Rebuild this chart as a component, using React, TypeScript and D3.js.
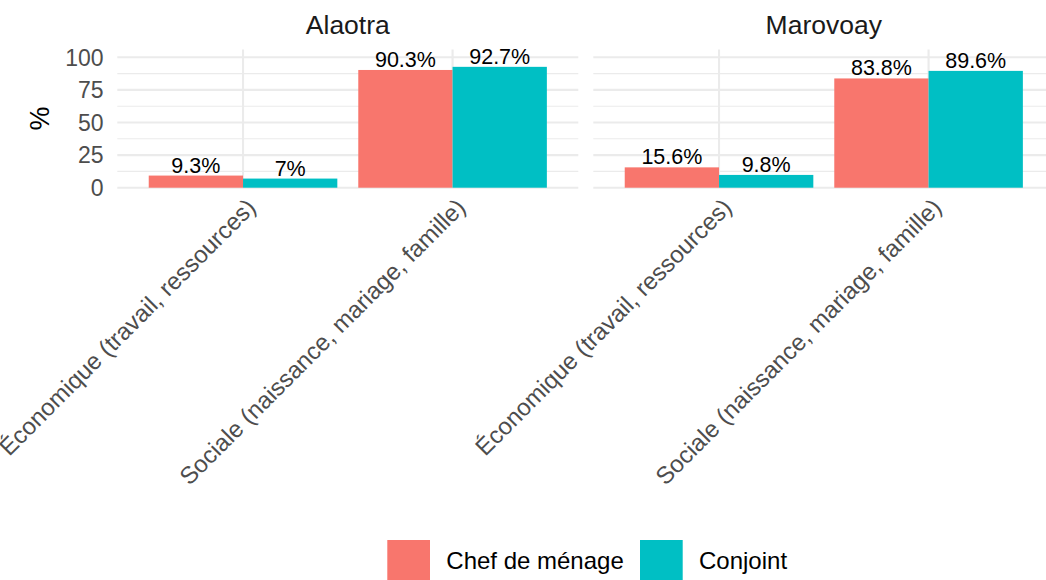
import React from "react";
import * as d3 from "d3";

const regions = ["Alaotra", "Marovoay"];
const categories = ["Économique (travail, ressources)", "Sociale (naissance, mariage, famille)"];
const series = ["Chef de ménage", "Conjoint"];
const colors = ["#F8766D", "#00BFC4"];
// values[category][series] per region
const alaotraValues = [[9.3, 7.0], [90.3, 92.7]];
const marovoayValues = [[15.6, 9.8], [83.8, 89.6]];
const yTicks = [0, 25, 50, 75, 100];
const yMinor = [12.5, 37.5, 62.5, 87.5];

const W = 1046;
const H = 580;
const FONT = "'Liberation Sans', Arial, Helvetica, sans-serif";

const panelTop = 49.5;
const panelBottom = 187.7;
const panels = [
  { left: 117.3, right: 578.3 },
  { left: 593.3, right: 1054.3 },
];

function fmt(v: number) {
  return `${Math.round(v * 10) / 10}%`;
}

export default function App() {
  const y = d3.scaleLinear().domain([0, 106]).range([panelBottom, panelTop]);
  const allValues = [alaotraValues, marovoayValues];

  return (
    <svg
      width={W}
      height={H}
      style={{ position: "absolute", left: 0, top: 0, background: "#fff" }}
      fontFamily={FONT}
    >
      <rect x={0} y={0} width={W} height={H} fill="#fff" />
      <text
        transform={`translate(40,${(panelTop + panelBottom) / 2}) rotate(-90)`}
        textAnchor="middle"
        dy="0.35em"
        fontSize={27}
        fill="#000"
      >
        %
      </text>
      {yTicks.map((t) => (
        <text
          key={t}
          x={103.5}
          y={y(t)}
          dy="0.36em"
          textAnchor="end"
          fontSize={23}
          fill="#4D4D4D"
        >
          {t}
        </text>
      ))}
      {panels.map((p, pi) => {
        const x = d3.scalePoint<string>().domain(categories).range([p.left, p.right]).padding(0.6);
        const step = x.step();
        const xs = d3
          .scaleBand<string>()
          .domain(series)
          .range([-0.45 * step, 0.45 * step])
          .padding(0);
        const vals = allValues[pi];
        return (
          <g key={pi}>
            {yMinor.map((t) => (
              <line key={"m" + t} x1={p.left} x2={p.right} y1={y(t)} y2={y(t)} stroke="#EBEBEB" strokeWidth={1.1} />
            ))}
            {yTicks.map((t) => (
              <line key={"M" + t} x1={p.left} x2={p.right} y1={y(t)} y2={y(t)} stroke="#EBEBEB" strokeWidth={2.1} />
            ))}
            {categories.map((c) => (
              <line
                key={"v" + c}
                x1={x(c)}
                x2={x(c)}
                y1={panelTop}
                y2={panelBottom}
                stroke="#EBEBEB"
                strokeWidth={2.1}
              />
            ))}
            <text x={(p.left + p.right) / 2} y={34} textAnchor="middle" fontSize={26.5} fill="#1A1A1A">
              {regions[pi]}
            </text>
            {categories.map((c, ci) =>
              series.map((s, si) => {
                const v = vals[ci][si];
                const bx = (x(c) as number) + (xs(s) as number);
                const bw = xs.bandwidth();
                return (
                  <g key={c + s}>
                    <rect x={bx} y={y(v)} width={bw} height={y(0) - y(v)} fill={colors[si]} />
                    <text x={bx + bw / 2} y={y(v) - 3} textAnchor="middle" fontSize={21.5} fill="#000">
                      {fmt(v)}
                    </text>
                  </g>
                );
              })
            )}
            {categories.map((c) => (
              <text
                key={"xl" + c}
                transform={`translate(${(x(c) as number) + 2},${panelBottom + 9}) rotate(-45)`}
                textAnchor="end"
                dy="0.72em"
                fontSize={24}
                fill="#4D4D4D"
              >
                {c}
              </text>
            ))}
          </g>
        );
      })}
      {series.map((s, si) => {
        const lx = [387.3, 640][si];
        return (
          <g key={s}>
            <rect x={lx} y={540} width={42.7} height={42.7} fill={colors[si]} />
            <text x={lx + 59} y={560} dy="0.36em" fontSize={24} fill="#000">
              {s}
            </text>
          </g>
        );
      })}
    </svg>
  );
}
